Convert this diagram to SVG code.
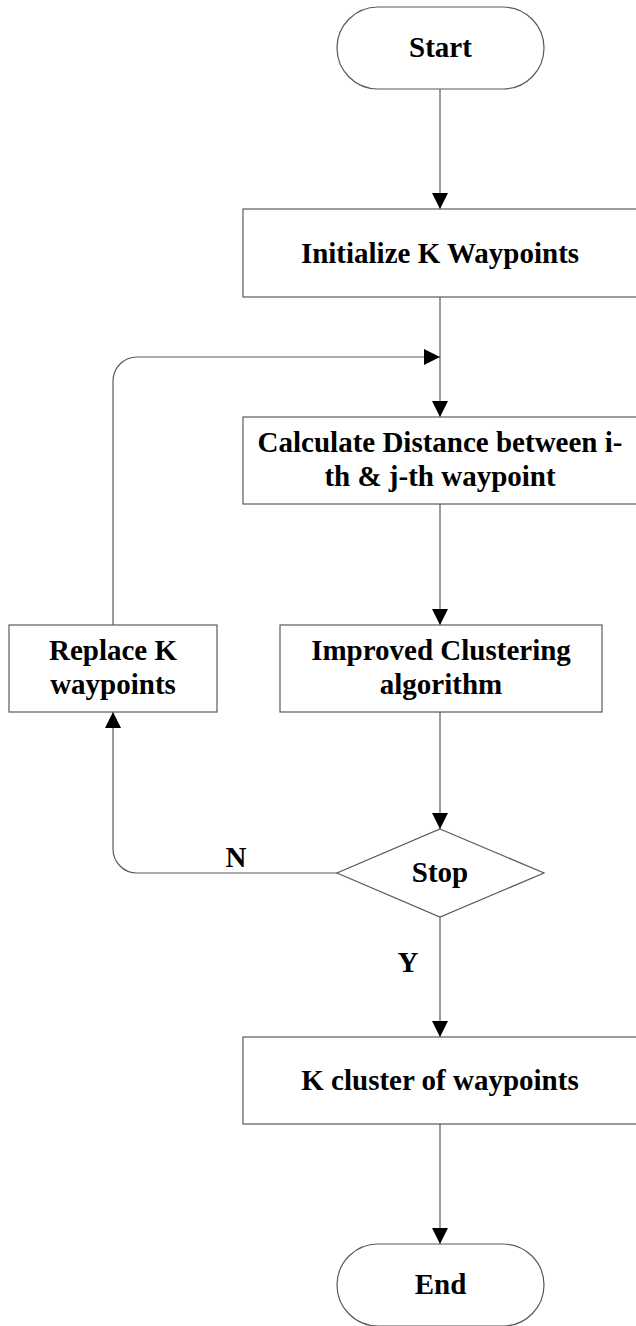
<svg xmlns="http://www.w3.org/2000/svg" width="636" height="1326" viewBox="0 0 636 1326">
<style>
.n{fill:#fff;stroke:#5a5a5a;stroke-width:1.2}
.t{font-family:"Liberation Serif","Times New Roman",serif;font-weight:bold;font-size:29px;fill:#000;text-anchor:middle}
.c{fill:none;stroke:#5a5a5a;stroke-width:1.2}
</style>
<defs>
<marker id="ah" markerUnits="userSpaceOnUse" markerWidth="16" markerHeight="16" viewBox="0 0 16 16" refX="16" refY="8" orient="auto">
<path d="M0,0 L16,8 L0,16 z" fill="#000"/>
</marker>
</defs>
<rect width="636" height="1326" fill="#fff"/>
<g id="connectors">
<line class="c" x1="440" y1="89" x2="440" y2="209" marker-end="url(#ah)"/>
<line class="c" x1="440" y1="297" x2="440" y2="417" marker-end="url(#ah)"/>
<path class="c" d="M113,625 L113,381 A24,24 0 0 1 137,357 L440,357" marker-end="url(#ah)"/>
<line class="c" x1="440" y1="504" x2="440" y2="625" marker-end="url(#ah)"/>
<line class="c" x1="440" y1="712" x2="440" y2="829" marker-end="url(#ah)"/>
<path class="c" d="M337,873 L137,873 A24,24 0 0 1 113,849 L113,712" marker-end="url(#ah)"/>
<line class="c" x1="440" y1="917" x2="440" y2="1037" marker-end="url(#ah)"/>
<line class="c" x1="440" y1="1124" x2="440" y2="1244" marker-end="url(#ah)"/>
<text class="t" x="236" y="867">N</text>
<text class="t" x="408" y="972">Y</text>
</g>
<g id="start">
<rect class="n" x="337" y="7" width="207" height="82" rx="41" ry="41"/>
<text class="t" x="440.5" y="57">Start</text>
</g>
<g id="init">
<rect class="n" x="243" y="209" width="394" height="88"/>
<text class="t" x="440" y="263">Initialize K Waypoints</text>
</g>
<g id="calc">
<rect class="n" x="243" y="417" width="394" height="87"/>
<text class="t" x="440" y="452">Calculate Distance between i-</text>
<text class="t" x="440" y="486">th &amp; j-th waypoint</text>
</g>
<g id="improved">
<rect class="n" x="280" y="625" width="322" height="87"/>
<text class="t" x="441" y="660">Improved Clustering</text>
<text class="t" x="441" y="694">algorithm</text>
</g>
<g id="replace">
<rect class="n" x="9" y="625" width="208" height="87"/>
<text class="t" x="113" y="660">Replace K</text>
<text class="t" x="113" y="694">waypoints</text>
</g>
<g id="stop">
<polygon class="n" points="440,829 544,873 440,917 337,873"/>
<text class="t" x="440" y="882">Stop</text>
</g>
<g id="kcluster">
<rect class="n" x="243" y="1037" width="394" height="87"/>
<text class="t" x="440" y="1090">K cluster of waypoints</text>
</g>
<g id="end">
<rect class="n" x="337" y="1244" width="207" height="82" rx="41" ry="41"/>
<text class="t" x="440.5" y="1294">End</text>
</g>
</svg>
